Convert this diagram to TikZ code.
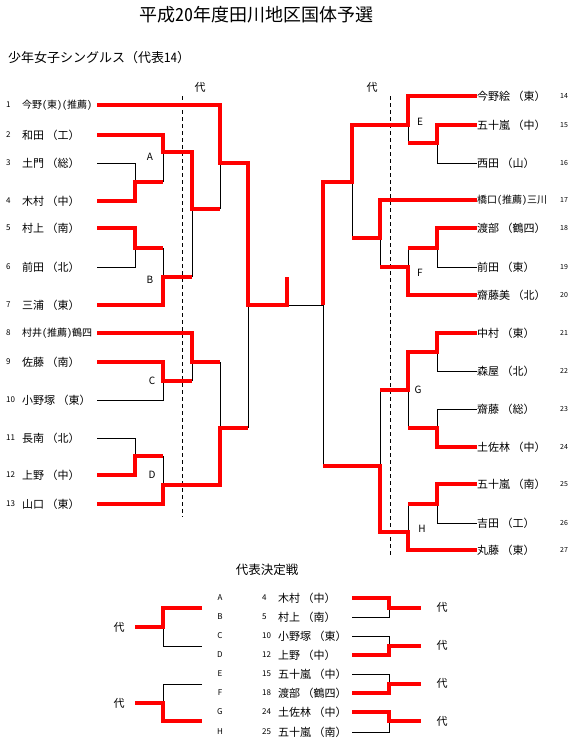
\documentclass[tikz,border=0pt]{standalone}
\usepackage{fontspec}
\setmainfont{Noto Sans CJK JP}
\newfontfamily\halfwd[RawFeature=+hwid]{Noto Sans CJK JP}
\newcommand{\recfont}{\halfwd\fontsize{10}{12}\selectfont}
\tikzset{
  win/.style={red, line width=3.4pt},
  lose/.style={black, line width=0.8pt},
  entrant/.style={anchor=west, inner sep=0pt, font=\fontsize{11}{13}\selectfont},
  seedno/.style={anchor=west, inner sep=0pt, font=\fontsize{8}{10}\selectfont},
  rseedno/.style={anchor=west, inner sep=0pt, font=\fontsize{7}{9}\selectfont},
  poolmark/.style={inner sep=0pt, font=\fontsize{10}{12}\selectfont},
  repmark/.style={inner sep=0pt, font=\fontsize{11}{13}\selectfont},
}
\begin{document}
\begin{tikzpicture}[x=1pt,y=-1pt]
    \useasboundingbox (0,0) rectangle (585,745);

    \node[font=\halfwd\fontsize{18}{20}\selectfont, inner sep=0pt] (title) at (256,15) {平成20年度田川地区国体予選};
    \node[anchor=west, inner sep=0pt, font=\fontsize{13}{15}\selectfont] (event) at (8,58) {少年女子シングルス（代表{\halfwd 14}）};

    % left half
    \foreach \n/\y/\who in {1/105/{\recfont 今野(東)(推薦)}, 2/135/{和田 （工）}, 3/163/{土門 （総）},
        4/201/{木村 （中）}, 5/228/{村上 （南）}, 6/267/{前田 （北）}, 7/305/{三浦 （東）},
        8/333/{\recfont 村井(推薦)鶴四}, 9/362/{佐藤 （南）}, 10/400/{小野塚 （東）},
        11/438/{長南 （北）}, 12/475/{上野 （中）}, 13/504/{山口 （東）}} {
        \node[seedno] (sl\n) at (6,\y) {\n};
        \node[entrant] (pl\n) at (22,\y) {\who};
    }

    % right half
    \foreach \n/\y/\who in {14/96/{今野絵 （東）}, 15/125/{五十嵐 （中）}, 16/163/{西田 （山）},
        17/200/{\recfont 橋口(推薦)三川}, 18/228/{渡部 （鶴四）}, 19/267/{前田 （東）},
        20/295/{齋藤美 （北）}, 21/333/{中村 （東）}, 22/371/{森屋 （北）},
        23/409/{齋藤 （総）}, 24/447/{土佐林 （中）}, 25/484/{五十嵐 （南）},
        26/523/{吉田 （工）}, 27/550/{丸藤 （東）}} {
        \node[entrant] (pr\n) at (477,\y) {\who};
        \node[rseedno] (sr\n) at (560,\y) {\n};
    }

    \draw[dash pattern=on 4pt off 3pt, line width=0.8pt] (182,96) -- (182,517);
    \draw[dash pattern=on 4pt off 3pt, line width=0.8pt] (390,96) -- (390,557);
    \node[repmark] (repl) at (200,87) {代};
    \node[repmark] (repr) at (372,87) {代};

    \node[poolmark] (poolA) at (150,157) {A};
    \node[poolmark] (poolB) at (150,280) {B};
    \node[poolmark] (poolC) at (152,381) {C};
    \node[poolmark] (poolD) at (152,475) {D};
    \node[poolmark] (poolE) at (420,122) {E};
    \node[poolmark] (poolF) at (420,273) {F};
    \node[poolmark] (poolG) at (418,390) {G};
    \node[poolmark] (poolH) at (422,529) {H};

    % losing lines, left
    \draw[lose] (97,163) -- (135,163) -- (135,182);
    \draw[lose] (163,152) -- (163,182);
    \draw[lose] (220,163) -- (220,209);
    \draw[lose] (192,209) -- (192,277);
    \draw[lose] (97,267) -- (135,267) -- (135,248);
    \draw[lose] (163,248) -- (163,277);
    \draw[lose] (192,362) -- (192,381);
    \draw[lose] (97,400) -- (163,400) -- (163,381);
    \draw[lose] (220,362) -- (220,428);
    \draw[lose] (97,438) -- (135,438) -- (135,456);
    \draw[lose] (163,456) -- (163,485);
    \draw[lose] (248,305) -- (248,428);
    \draw[lose] (287,305) -- (323,305);

    % losing lines, right
    \draw[lose] (477,163) -- (437,163) -- (437,143);
    \draw[lose] (408,125) -- (408,143);
    \draw[lose] (352,182) -- (352,238);
    \draw[lose] (477,267) -- (437,267) -- (437,248);
    \draw[lose] (408,248) -- (408,267);
    \draw[lose] (380,238) -- (380,267);
    \draw[lose] (477,371) -- (437,371) -- (437,352);
    \draw[lose] (477,409) -- (437,409) -- (437,428);
    \draw[lose] (408,390) -- (408,428);
    \draw[lose] (380,390) -- (380,466);
    \draw[lose] (477,523) -- (437,523) -- (437,504);
    \draw[lose] (408,504) -- (408,532);
    \draw[lose] (323,305) -- (323,466);

    % winning lines, left
    \draw[win] (97,105) -- (220,105) -- (220,163) -- (248,163) -- (248,305) -- (287,305) -- (287,277);
    \draw[win] (97,135) -- (163,135) -- (163,152) -- (192,152) -- (192,209) -- (220,209);
    \draw[win] (97,201) -- (135,201) -- (135,182) -- (163,182);
    \draw[win] (97,228) -- (135,228) -- (135,248) -- (163,248);
    \draw[win] (97,305) -- (163,305) -- (163,277) -- (192,277);
    \draw[win] (97,333) -- (192,333) -- (192,362) -- (220,362);
    \draw[win] (97,362) -- (163,362) -- (163,381) -- (192,381);
    \draw[win] (97,475) -- (135,475) -- (135,456) -- (163,456);
    \draw[win] (97,504) -- (163,504) -- (163,485) -- (220,485) -- (220,428) -- (248,428);

    % winning lines, right
    \draw[win] (477,96) -- (408,96) -- (408,125) -- (352,125) -- (352,182) -- (323,182) -- (323,305);
    \draw[win] (477,125) -- (437,125) -- (437,143) -- (408,143);
    \draw[win] (477,200) -- (380,200) -- (380,238) -- (352,238);
    \draw[win] (477,228) -- (437,228) -- (437,248) -- (408,248);
    \draw[win] (477,295) -- (408,295) -- (408,267) -- (380,267);
    \draw[win] (477,333) -- (437,333) -- (437,352) -- (408,352) -- (408,390) -- (380,390);
    \draw[win] (477,447) -- (437,447) -- (437,428) -- (408,428);
    \draw[win] (477,484) -- (437,484) -- (437,504) -- (408,504);
    \draw[win] (477,550) -- (408,550) -- (408,532) -- (380,532) -- (380,466) -- (323,466);

    % play-off
    \node[font=\fontsize{12.5}{14}\selectfont, inner sep=0pt] (playoff) at (267,570) {代表決定戦};
    \foreach \p/\y in {A/598, B/617, C/636, D/655, E/674, F/693, G/712, H/732}
        \node[inner sep=0pt, font=\fontsize{8}{10}\selectfont] (po\p) at (220,\y) {\p};
    \foreach \n/\y/\who in {4/598/{木村 （中）}, 5/617/{村上 （南）}, 10/636/{小野塚 （東）},
        12/655/{上野 （中）}, 15/674/{五十嵐 （中）}, 18/693/{渡部 （鶴四）},
        24/712/{土佐林 （中）}, 25/732/{五十嵐 （南）}} {
        \node[seedno] (ps\n) at (262,\y) {\n};
        \node[entrant] (pn\n) at (278,\y) {\who};
    }
    \node[repmark] (rep1) at (119,627) {代};
    \node[repmark] (rep2) at (119,703) {代};
    \node[repmark] (rep3) at (442,607) {代};
    \node[repmark] (rep4) at (442,645) {代};
    \node[repmark] (rep5) at (442,683) {代};
    \node[repmark] (rep6) at (442,721) {代};

    \draw[lose] (163,627) -- (163,646) -- (202,646);
    \draw[lose] (202,684) -- (163,684) -- (163,703);
    \draw[lose] (352,617) -- (389,617) -- (389,608);
    \draw[lose] (352,636) -- (389,636) -- (389,646);
    \draw[lose] (352,674) -- (389,674) -- (389,684);
    \draw[lose] (352,732) -- (389,732) -- (389,721);

    \draw[win] (202,608) -- (163,608) -- (163,627) -- (135,627);
    \draw[win] (135,703) -- (163,703) -- (163,721) -- (202,721);
    \draw[win] (352,598) -- (389,598) -- (389,608) -- (421,608);
    \draw[win] (352,655) -- (389,655) -- (389,646) -- (421,646);
    \draw[win] (352,693) -- (389,693) -- (389,684) -- (421,684);
    \draw[win] (352,712) -- (389,712) -- (389,721) -- (421,721);
\end{tikzpicture}
\end{document}
